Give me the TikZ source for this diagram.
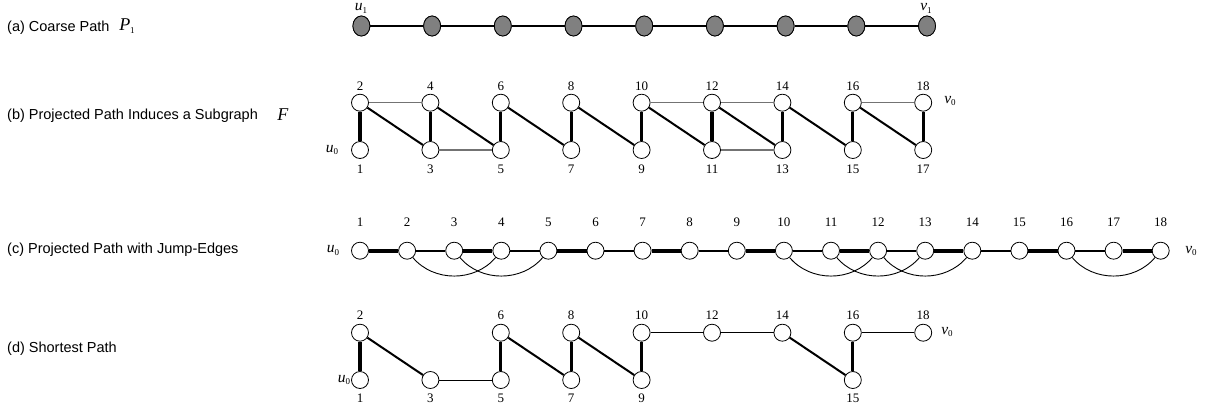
\documentclass[tikz,border=0pt]{standalone}
\usepackage{fontspec}
\setmainfont{Liberation Serif}
\setsansfont{Liberation Sans}
\newcommand{\vlab}[2]{\textit{#1}\raisebox{-2.6pt}{\fontsize{9}{9}\selectfont #2}}
\begin{document}
\begin{tikzpicture}[x=1pt,y=-1pt,
  coarse/.style={ellipse,draw=black,line width=0.8pt,fill=black!50,minimum width=17pt,minimum height=20pt,inner sep=0pt},
  vert/.style={circle,draw=black,line width=0.8pt,fill=white,minimum size=17pt,inner sep=0pt},
  num/.style={font=\fontsize{13}{13}\selectfont,inner sep=0pt},
  caption/.style={font=\sffamily\fontsize{14.5}{15}\selectfont,anchor=west,inner sep=0pt},
  sym/.style={font=\fontsize{15.5}{16}\selectfont,inner sep=0pt},
  big/.style={font=\fontsize{18}{18}\selectfont,inner sep=0pt},
  coarseedge/.style={line width=2.4pt},
  rung/.style={line width=3.3pt},
  diag/.style={line width=2pt},
  side/.style={line width=1.2pt,draw=black!55},
  pthick/.style={line width=4pt},
  pthin/.style={line width=1.8pt},
  jump/.style={line width=0.9pt},
  short/.style={line width=1pt}]
\useasboundingbox (0,0) rectangle (1206,410);
\usetikzlibrary{shapes.geometric}

% ---------- captions ----------
\node[caption] (ca) at (7,28) {(a) Coarse Path};
\node[big] (p1) at (127,26) {\textit{P}\raisebox{-3pt}{\fontsize{9}{9}\selectfont 1}};
\node[caption] (cb) at (7,116) {(b) Projected Path Induces a Subgraph};
\node[big] (fF) at (283,115) {\textit{F}};
\node[caption] (cc) at (7,250) {(c) Projected Path with Jump-Edges};
\node[caption] (cd) at (7,349) {(d) Shortest Path};

% ---------- (a) coarse path ----------
\foreach \i in {1,...,9}
  \node[coarse] (a\i) at ({361.4+70.7*(\i-1)},26) {};
\foreach \i [evaluate=\i as \j using int(\i+1)] in {1,...,8}
  \draw[coarseedge] (a\i) -- (a\j);
\foreach \i in {1,...,9}
  \node[coarse] at (a\i) {};
\node[sym] (ua) at (361,8.5) {\vlab{u}{1}};
\node[sym] (va) at (926,8.5) {\vlab{v}{1}};

% ---------- (b) induced subgraph ----------
\foreach \k in {0,...,8}{
  \pgfmathtruncatemacro{\top}{2*\k+2}
  \pgfmathtruncatemacro{\bot}{2*\k+1}
  \node[vert] (b\top) at ({360+70.4*\k},102.7) {};
  \node[vert] (b\bot) at ({360+70.4*\k},150) {};
  \node[num] at ({360+70.4*\k},86.5) {\top};
  \node[num] at ({360+70.4*\k},169) {\bot};
}
\foreach \a/\b in {b2/b4,b3/b5,b10/b12,b12/b14,b11/b13,b16/b18}
  \draw[side] (\a) -- (\b);
\foreach \a/\b in {b2/b3,b4/b5,b6/b7,b8/b9,b10/b11,b12/b13,b14/b15,b16/b17}
  \draw[diag] (\a) -- (\b);
\foreach \a/\b in {b1/b2,b3/b4,b5/b6,b7/b8,b9/b10,b11/b12,b13/b14,b15/b16,b17/b18}
  \draw[rung] (\a) -- (\b);
\node[sym] (ub) at (332,150) {\vlab{u}{0}};
\node[sym] (vb) at (950,101) {\vlab{v}{0}};

% ---------- (c) path with jump edges ----------
\foreach \i in {1,...,18}{
  \node[vert] (c\i) at ({360+47.1*(\i-1)},250.7) {};
  \node[num] at ({360+47.1*(\i-1)},222.3) {\i};
}
\foreach \a/\b in {c1/c2,c3/c4,c5/c6,c7/c8,c9/c10,c11/c12,c13/c14,c15/c16,c17/c18}
  \draw[pthick] (\a) -- (\b);
\foreach \a/\b in {c2/c3,c4/c5,c6/c7,c8/c9,c10/c11,c12/c13,c14/c15,c16/c17}
  \draw[pthin] (\a) -- (\b);
\foreach \a/\b in {c2/c4,c3/c5,c10/c12,c11/c13,c12/c14,c16/c18}
  \draw[jump] (\a) to[out=-50,in=-130] (\b);
\node[sym] (uc) at (333,250.7) {\vlab{u}{0}};
\node[sym] (vc) at (1191,251) {\vlab{v}{0}};

% ---------- (d) shortest path ----------
\foreach \k/\n in {0/2,2/6,3/8,4/10,5/12,6/14,7/16,8/18}{
  \node[vert] (d\n) at ({360+70.4*\k},332.7) {};
  \node[num] at ({360+70.4*\k},315.5) {\n};
}
\foreach \k/\n in {0/1,1/3,2/5,3/7,4/9,7/15}{
  \node[vert] (d\n) at ({360+70.4*\k},380) {};
  \node[num] at ({360+70.4*\k},398.5) {\n};
}
\foreach \a/\b in {d3/d5,d10/d12,d12/d14,d16/d18}
  \draw[short] (\a) -- (\b);
\foreach \a/\b in {d2/d3,d6/d7,d8/d9,d14/d15}
  \draw[diag] (\a) -- (\b);
\foreach \a/\b in {d1/d2,d5/d6,d7/d8,d9/d10,d15/d16}
  \draw[rung] (\a) -- (\b);
\node[sym] (ud) at (344,380) {\vlab{u}{0}};
\node[sym] (vd) at (947,332) {\vlab{v}{0}};
\end{tikzpicture}
\end{document}
